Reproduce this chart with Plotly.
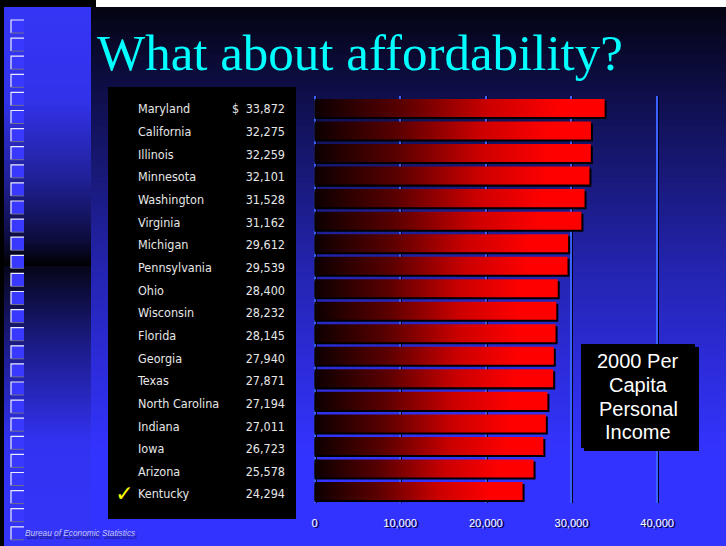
import plotly.graph_objects as go

W, H = 726, 546

# ---------------- data ----------------
states = ["Maryland", "California", "Illinois", "Minnesota", "Washington",
          "Virginia", "Michigan", "Pennsylvania", "Ohio", "Wisconsin",
          "Florida", "Georgia", "Texas", "North Carolina", "Indiana",
          "Iowa", "Arizona", "Kentucky"]
income = [33872, 32275, 32259, 32101, 31528, 31162, 29612, 29539, 28400,
          28232, 28145, 27940, 27871, 27194, 27011, 26723, 25578, 24294]
tick_values = [0, 10000, 20000, 30000, 40000]
highlight_state = "Kentucky"
currency = "$"
title_text = "What about affordability?"
box_lines = ["2000 Per", "Capita", "Personal", "Income"]
source_text = "Bureau of Economic Statistics"


def X(px):
    return px / W


def Y(py):
    return 1 - py / H


def interp(stops, y):
    for (y0, c0), (y1, c1) in zip(stops[:-1], stops[1:]):
        if y0 <= y <= y1:
            t = 0 if y1 == y0 else (y - y0) / (y1 - y0)
            return "rgb(%d,%d,%d)" % tuple(round(a + (b - a) * t) for a, b in zip(c0, c1))
    c = stops[-1][1] if y > stops[-1][0] else stops[0][1]
    return "rgb(%d,%d,%d)" % c


def bands(x0, x1, ytop, ybot, stops, step=3):
    out = []
    y = ytop
    while y < ybot:
        y2 = min(ybot, y + step)
        out.append(dict(type="rect", xref="paper", yref="paper", layer="below",
                        x0=X(x0), x1=X(x1), y0=Y(min(ybot, y2 + 0.8)), y1=Y(y),
                        fillcolor=interp(stops, (y + y2) / 2), line=dict(width=0)))
        y = y2
    return out


shapes = []

# main background gradient (dark navy top -> bright blue bottom)
main_stops = [(0, (3, 3, 14)), (10, (4, 4, 20)), (90, (14, 14, 72)),
              (270, (36, 36, 176)), (450, (51, 51, 255)), (546, (51, 51, 255))]
shapes += bands(0, W, 0, H, main_stops)

# left stripe gradient (two halves)
top_stops = [(7, (53, 53, 245)), (100, (50, 50, 235)), (180, (32, 32, 150)),
             (240, (12, 12, 60)), (266, (0, 0, 0))]
bot_stops = [(266, (6, 6, 26)), (350, (28, 28, 140)), (440, (50, 50, 240)),
             (546, (53, 53, 250))]
shapes += bands(4, 91, 7, 266, top_stops)
shapes += bands(4, 91, 266, H, bot_stops)

# frame: black left edge, top band
shapes.append(dict(type="rect", xref="paper", yref="paper", layer="below",
                   x0=0, x1=X(4), y0=0, y1=1, fillcolor="black", line=dict(width=0)))
shapes.append(dict(type="rect", xref="paper", yref="paper", layer="below",
                   x0=0, x1=X(96), y0=Y(7), y1=1, fillcolor="black", line=dict(width=0)))
shapes.append(dict(type="rect", xref="paper", yref="paper", layer="below",
                   x0=X(96), x1=1, y0=Y(7), y1=1, fillcolor="white", line=dict(width=0)))

# decorative squares on the stripe
for k in range(29):
    t = 20 + 18.1 * k
    b = t + 13
    shapes.append(dict(type="rect", xref="paper", yref="paper", layer="below",
                       x0=X(11), x1=X(24), y0=Y(b), y1=Y(t),
                       fillcolor="rgb(56,56,255)", line=dict(width=0)))
    shapes.append(dict(type="path", xref="paper", yref="paper", layer="below",
                       path="M %f,%f L %f,%f L %f,%f" % (X(11), Y(b), X(11), Y(t), X(24), Y(t)),
                       line=dict(color="rgb(235,235,255)", width=1.2)))
    shapes.append(dict(type="line", xref="paper", yref="paper", layer="below",
                       x0=X(11), x1=X(24), y0=Y(b), y1=Y(b),
                       line=dict(color="rgb(110,110,140)", width=1)))

# table box
shapes.append(dict(type="rect", xref="paper", yref="paper", layer="below",
                   x0=X(108), x1=X(296), y0=Y(519), y1=Y(87),
                   fillcolor="black", line=dict(width=0)))

# label box (with shadow)
shapes.append(dict(type="rect", xref="paper", yref="paper", layer="above",
                   x0=X(584), x1=X(699), y0=Y(451), y1=Y(347),
                   fillcolor="black", line=dict(width=0)))
shapes.append(dict(type="rect", xref="paper", yref="paper", layer="above",
                   x0=X(581), x1=X(695), y0=Y(448), y1=Y(344),
                   fillcolor="black", line=dict(width=0)))

fig = go.Figure()

idx = list(range(len(states)))
half = 0.4

# bar shadows
fig.add_trace(go.Bar(orientation="h", x=[v + 233 for v in income],
                     y=[i + 0.09 for i in idx], width=2 * half,
                     marker=dict(color="black", line=dict(width=0)),
                     hoverinfo="skip", showlegend=False))

# gradient bars
for i, v in zip(idx, income):
    fig.add_trace(go.Scatter(
        x=[0, v, v, 0, 0], y=[i - half, i - half, i + half, i + half, i - half],
        mode="lines", fill="toself", line=dict(width=0),
        fillgradient=dict(type="horizontal",
                          colorscale=[[0, "#0c0000"], [0.3, "#5a0000"],
                                      [0.6, "#cc0000"], [0.85, "#ff0000"],
                                      [1, "#ff0000"]]),
        hoverinfo="skip", showlegend=False))

# table text
tfont = dict(family="Liberation Sans Narrow, DejaVu Sans Condensed, Arial Narrow, sans-serif",
             size=12.5, color="#e6e6e6")
fig.add_trace(go.Scatter(x=[30] * len(states), y=idx, text=states, mode="text",
                         textposition="middle right", textfont=tfont,
                         xaxis="x2", yaxis="y2", hoverinfo="skip", showlegend=False))
value_labels = [f"{v:,}" for v in income]
fig.add_trace(go.Scatter(x=[177] * len(states), y=idx, text=value_labels, mode="text",
                         textposition="middle left", textfont=tfont,
                         xaxis="x2", yaxis="y2", hoverinfo="skip", showlegend=False))
fig.add_trace(go.Scatter(x=[124], y=[0], text=[currency], mode="text",
                         textposition="middle right", textfont=tfont,
                         xaxis="x2", yaxis="y2", hoverinfo="skip", showlegend=False))
hi = states.index(highlight_state)
fig.add_trace(go.Scatter(x=[16.5], y=[hi], text=["\u2713"], mode="text",
                         textposition="middle center",
                         textfont=dict(family="DejaVu Sans", size=22, color="#ffff00"),
                         xaxis="x2", yaxis="y2", hoverinfo="skip", showlegend=False))

x0px, kpx = 314.5, 0.008565
xr = [-300, 45000]
annotations = []
annotations.append(dict(text=title_text, xref="paper", yref="paper",
                        x=X(95), y=Y(53), xanchor="left", yanchor="middle",
                        showarrow=False,
                        font=dict(family="Liberation Serif", size=51, color="#00ffff")))
for j, line in enumerate(box_lines):
    annotations.append(dict(text=line, xref="paper", yref="paper",
                            x=X(638), y=Y(361 + 23.8 * j), xanchor="center", yanchor="middle",
                            showarrow=False,
                            font=dict(family="Liberation Sans", size=20, color="white")))
annotations.append(dict(text=source_text, xref="paper", yref="paper",
                        x=X(23), y=Y(533), xanchor="left", yanchor="middle",
                        showarrow=False,
                        font=dict(family="Liberation Sans", size=8.3, color="#c4c4ff",
                                  style="italic", shadow="2px 3px 0px #1c1c8a")))

fig.update_layout(
    width=W, height=H, autosize=False,
    margin=dict(l=0, r=0, t=0, b=0, pad=0),
    paper_bgcolor="white", plot_bgcolor="rgba(0,0,0,0)",
    showlegend=False, barmode="overlay",
    shapes=shapes, annotations=annotations,
    xaxis=dict(domain=[X(x0px + xr[0] * kpx), X(x0px + xr[1] * kpx)], range=xr,
               tickmode="array", tickvals=tick_values, tickformat=",d",
               showgrid=True, gridcolor="#3a62ff", gridwidth=2, zeroline=False,
               showline=False, ticks="outside", ticklen=10, tickcolor="rgba(0,0,0,0)",
               tickfont=dict(family="Liberation Sans", size=11, color="white",
                             shadow="2px 1px 0px #00002a"),
               minor=dict(tickmode="array", tickvals=[v + 175 for v in tick_values],
                          showgrid=True, gridcolor="#00001e", gridwidth=1, ticks=""),
               fixedrange=True),
    yaxis=dict(domain=[Y(503), Y(96)], range=[17.533, -0.533], visible=False,
               fixedrange=True),
    xaxis2=dict(domain=[X(108), X(296)], range=[0, 188], visible=False, anchor="y2",
                fixedrange=True),
    yaxis2=dict(domain=[Y(519), Y(87)], range=[18.044, -1.031], visible=False,
                anchor="x2", fixedrange=True),
)

fig.write_html("out.html", config={"displayModeBar": False},
               post_script="document.body.style.margin='0';")
